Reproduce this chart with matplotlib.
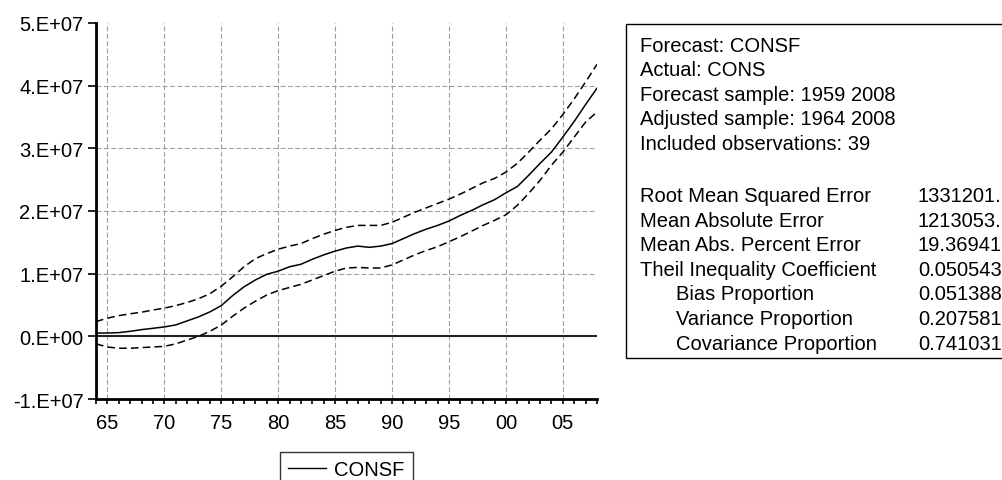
import matplotlib
matplotlib.use("Agg")
import matplotlib.pyplot as plt
from matplotlib.patches import Rectangle
from matplotlib.lines import Line2D

plt.rcParams['font.family'] = ['Liberation Sans', 'DejaVu Sans']
plt.rcParams['lines.scale_dashes'] = False

# ---------------- data ----------------
years = list(range(1964, 2009))
consf = [0.53, 0.53, 0.59, 0.80, 1.07, 1.28, 1.50, 1.82, 2.46, 3.10,
         3.90, 4.90, 6.50, 7.90, 9.00, 9.90, 10.4, 11.1, 11.5, 12.3,
         13.0, 13.6, 14.1, 14.4, 14.2, 14.4, 14.8, 15.6, 16.4, 17.1,
         17.7, 18.4, 19.3, 20.1, 21.0, 21.8, 22.9, 23.9, 25.7, 27.6,
         29.4, 31.8, 34.3, 37.0, 39.6]
upper = [2.35, 2.9, 3.3, 3.6, 3.85, 4.2, 4.5, 4.9, 5.4, 6.0,
         6.8, 8.0, 9.5, 11.1, 12.4, 13.2, 13.9, 14.4, 14.8, 15.6,
         16.3, 16.9, 17.4, 17.7, 17.7, 17.7, 18.2, 19.0, 19.8, 20.5,
         21.2, 21.9, 22.7, 23.6, 24.5, 25.2, 26.2, 27.6, 29.4, 31.3,
         33.1, 35.4, 37.9, 40.6, 43.4]
lower = [-1.2, -1.7, -1.9, -1.9, -1.8, -1.7, -1.6, -1.2, -0.6, 0.0,
         0.8, 1.8, 3.2, 4.5, 5.6, 6.6, 7.3, 7.8, 8.3, 9.0,
         9.7, 10.4, 10.9, 11.0, 10.9, 10.9, 11.4, 12.2, 13.0, 13.7,
         14.3, 15.1, 15.9, 16.8, 17.7, 18.5, 19.4, 20.9, 22.8, 24.9,
         27.3, 29.4, 31.8, 34.2, 35.8]
scale = 1e6

ytick_vals = [-1e7, 0, 1e7, 2e7, 3e7, 4e7, 5e7]
ytick_labels = ['-1.E+07', '0.E+00', '1.E+07', '2.E+07', '3.E+07', '4.E+07', '5.E+07']
xtick_vals = [1965, 1970, 1975, 1980, 1985, 1990, 1995, 2000, 2005]
xtick_labels = ['65', '70', '75', '80', '85', '90', '95', '00', '05']

stats_header = ['Forecast: CONSF', 'Actual: CONS', 'Forecast sample: 1959 2008',
                'Adjusted sample: 1964 2008', 'Included observations: 39']
stats_names = ['Root Mean Squared Error', 'Mean Absolute Error',
               'Mean Abs. Percent Error', 'Theil Inequality Coefficient',
               'Bias Proportion', 'Variance Proportion', 'Covariance Proportion']
stats_values = ['1331201.', '1213053.', '19.36941', '0.050543',
                '0.051388', '0.207581', '0.741031']
stats_indent = [False, False, False, False, True, True, True]

# ---------------- figure ----------------
W, H = 1003, 481
fig = plt.figure(figsize=(W / 100, H / 100), dpi=100)
ax = fig.add_axes([96 / W, 1 - 400 / H, (597 - 96) / W, (400 - 24) / H])

FS = 14.5
ax.plot(years, [v * scale for v in upper], color='black', lw=1.1,
        dashes=(5.5, 3.0))
ax.plot(years, [v * scale for v in lower], color='black', lw=1.1,
        dashes=(5.5, 3.0))
ax.plot(years, [v * scale for v in consf], color='black', lw=1.1,
        label='CONSF')

ax.axhline(0, color='#222222', lw=1.5, zorder=1)
for v in ytick_vals[2:-1]:
    ax.axhline(v, color='#a0a0a0', lw=0.8, dashes=(3.5, 1.8), zorder=0)
for v in xtick_vals:
    ax.axvline(v, color='#a0a0a0', lw=0.8, dashes=(3.5, 1.8), zorder=0)

ax.set_xlim(1964, 2008)
ax.set_ylim(-1e7, 5e7)
ax.set_yticks(ytick_vals)
ax.set_yticklabels(ytick_labels, fontsize=FS)
ax.set_xticks(xtick_vals)
ax.set_xticklabels(xtick_labels, fontsize=FS)
ax.set_xticks(years, minor=True)
ax.tick_params(axis='y', direction='out', length=6, width=1.2, pad=3,
               colors='black')
ax.tick_params(axis='x', which='both', direction='out', length=3.4,
               width=1.2, pad=6.5)

for s in ['top', 'right']:
    ax.spines[s].set_visible(False)
for s in ['left', 'bottom']:
    ax.spines[s].set_linewidth(2.0)

# legend
leg = fig.legend(handles=[Line2D([], [], color='black', lw=1.0)],
                 labels=['CONSF'], loc='upper left',
                 bbox_to_anchor=(280 / W, 1 - 452.7 / H),
                 borderaxespad=0, fontsize=FS, frameon=True, fancybox=False,
                 edgecolor='black', handlelength=1.9, handletextpad=0.4,
                 borderpad=0.4)
leg.get_frame().set_linewidth(1.0)

# statistics box
box = Rectangle((626 / W, 1 - 359 / H), (1010 - 626) / W, (359 - 25) / H,
                transform=fig.transFigure, fill=False, edgecolor='black',
                lw=1.0, clip_on=False)
fig.patches.append(box)

row_y = 46
step = 24.6
for t in stats_header:
    fig.text(640 / W, 1 - row_y / H, t, fontsize=FS, va='center', ha='left')
    row_y += step
row_y = 197
step = 24.5
for name, val, ind in zip(stats_names, stats_values, stats_indent):
    x0 = 676 if ind else 640
    fig.text(x0 / W, 1 - row_y / H, name, fontsize=FS, va='center', ha='left')
    fig.text(918 / W, 1 - row_y / H, val, fontsize=FS, va='center', ha='left')
    row_y += step

fig.savefig('out.png', dpi=100)
